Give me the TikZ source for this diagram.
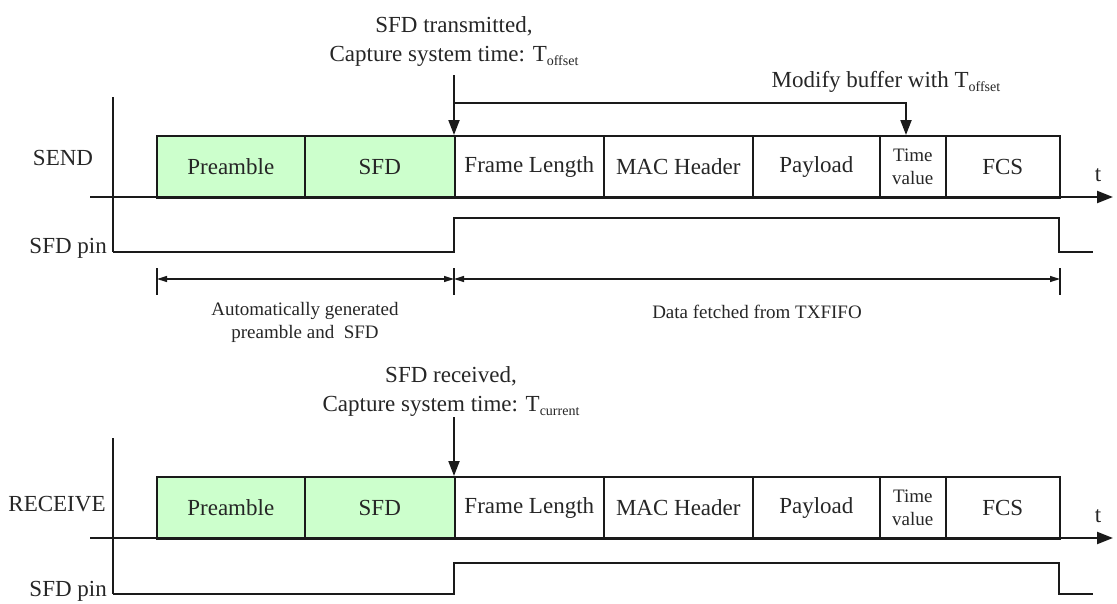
\documentclass[tikz,border=0pt]{standalone}
\usepackage{fontspec}
\setmainfont{Liberation Serif}
\usetikzlibrary{arrows.meta}
\definecolor{pgreen}{HTML}{CCFFCC}
\definecolor{txt}{HTML}{262626}
\definecolor{ln}{HTML}{1A1A1A}
\newcommand\subtxt[1]{\raisebox{-4pt}{\fontsize{14}{14}\selectfont #1}}
\tikzset{
  field/.style={draw=ln, line width=1.6pt, minimum height=62pt, inner sep=0pt,
    anchor=north west, font=\fontsize{23}{26}\selectfont, text=txt, align=center},
  gfield/.style={field, fill=pgreen},
  tvfield/.style={field, font=\fontsize{19}{23}\selectfont},
  lbl/.style={font=\fontsize{23}{28}\selectfont, text=txt, inner sep=0pt, anchor=base},
  small/.style={font=\fontsize{19}{23}\selectfont, text=txt, inner sep=0pt, anchor=base},
  axisline/.style={draw=ln, line width=2pt},
  sig/.style={draw=ln, line width=2.4pt},
  taxis/.style={draw=ln, line width=2.2pt, -{Triangle[length=16pt,width=12pt]}},
  darrow/.style={draw=ln, line width=2pt, -{Triangle[length=15pt,width=11pt]}},
  dim/.style={draw=ln, line width=1.4pt, {Triangle[length=10pt,width=6pt]}-{Triangle[length=10pt,width=6pt]}},
  tick/.style={draw=ln, line width=1.4pt},
}
\newcommand\framerow[2]{%
  \node[gfield, minimum width=148pt] (#1pre) at (156,#2) {Preamble};
  \node[gfield, minimum width=150pt] (#1sfd) at (304,#2) {SFD};
  \node[field, minimum width=149pt] (#1fl) at (454,#2) {Frame Length};
  \node[field, minimum width=149pt] (#1mac) at (603,#2) {MAC Header};
  \node[field, minimum width=127pt] (#1pay) at (752,#2) {Payload};
  \node[tvfield, minimum width=66pt] (#1tv) at (879,#2) {Time\\value};
  \node[field, minimum width=114pt] (#1fcs) at (945,#2) {FCS};
}
\begin{document}
\begin{tikzpicture}[x=1pt,y=-1pt]
\useasboundingbox (0,0) rectangle (1117,603);

% ================= SEND =================
\framerow{s}{135}
\draw[axisline] (113,97) -- (113,252);
\draw[taxis] (90,197) -- (1113,197);
\draw[sig] (90,197) -- (156,197);
\node[lbl] (st) at (1098,181) {t};
\draw[sig] (113,252) -- (454,252) -- (454,218) -- (1059,218) -- (1059,252) -- (1093,252);
\node[lbl] (slab) at (63,165) {SEND};
\node[lbl, anchor=base east] (spin) at (107,253) {SFD pin};

\node[lbl] (snote1) at (454,32) {SFD transmitted,};
\node[lbl] (snote2) at (454,61) {Capture system time: T\subtxt{offset}};
\coordinate (scap) at (454,75);
\draw[darrow] (scap) -- (sfl.north west);
\coordinate (smod) at (454,103);
\coordinate (stvtop) at (906,135);
\draw[darrow] (smod) -| (stvtop);
\node[lbl] (smodlab) at (886,87) {Modify buffer with T\subtxt{offset}};

% dimension lines
\coordinate (d0) at (157,279);
\coordinate (d1) at (454,279);
\coordinate (d2) at (1060,279);
\draw[tick] (157,268) -- (157,295);
\draw[tick] (454,268) -- (454,295);
\draw[tick] (1060,268) -- (1060,295);
\draw[dim] (d0) -- (d1);
\draw[dim] (d1) -- (d2);
\node[small] (auto1) at (305,315) {Automatically generated};
\node[small] (auto2) at (305,338) {preamble and\ \ SFD};
\node[small] (data) at (757,318) {Data fetched from TXFIFO};

% ================= RECEIVE =================
\framerow{r}{476}
\draw[axisline] (113,438) -- (113,594);
\draw[taxis] (90,538) -- (1113,538);
\draw[sig] (90,538) -- (156,538);
\node[lbl] (rt) at (1098,522) {t};
\draw[sig] (113,594) -- (454,594) -- (454,563) -- (1059,563) -- (1059,594) -- (1093,594);
\node[lbl] (rlab) at (57,511) {RECEIVE};
\node[lbl, anchor=base east] (rpin) at (107,596) {SFD pin};

\node[lbl] (rnote1) at (451,382) {SFD received,};
\node[lbl] (rnote2) at (451,411) {Capture system time: T\subtxt{current}};
\coordinate (rcap) at (454,417);
\draw[darrow] (rcap) -- (rfl.north west);
\end{tikzpicture}
\end{document}
